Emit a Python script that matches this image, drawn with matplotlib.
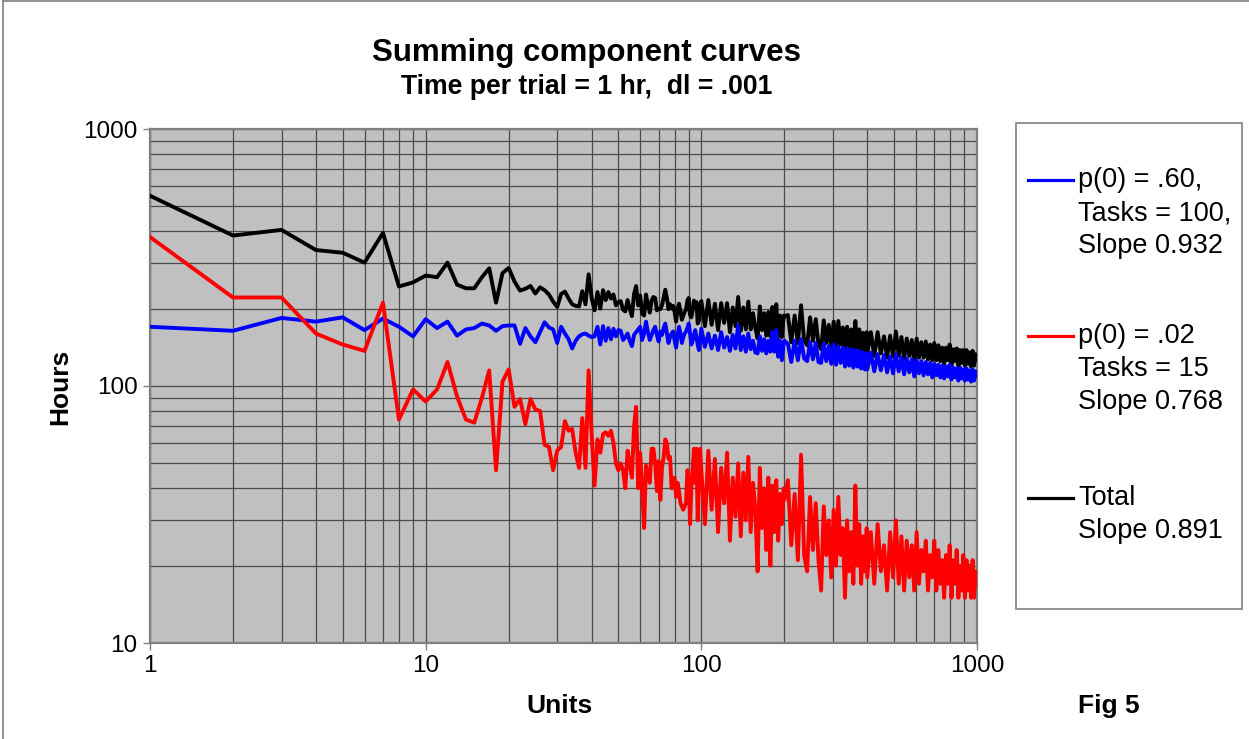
import numpy as np
import matplotlib.pyplot as plt
from matplotlib.patches import Rectangle
from matplotlib.lines import Line2D
from matplotlib.ticker import LogLocator, NullFormatter, FixedLocator

plt.rcParams['font.family'] = ['Liberation Sans', 'DejaVu Sans']

# units: every unit up to 100, then sampled units through the dense part
units = list(range(1, 101)) + list(range(103, 200, 3)) + list(range(200, 400, 6)) + list(range(400, 1001, 12))

# p(0) = .60, Tasks = 100
blue = [170, 164, 184, 178, 185, 165, 183, 170, 156, 182,
        168, 178, 157, 166, 168, 175, 172, 164, 171, 172,
        172, 146, 168, 156, 148, 162, 177, 169, 166, 147,
        170, 160, 152, 140, 150, 156, 159, 160, 157, 155,
        156, 170, 145, 171, 150, 168, 152, 167, 156, 165,
        164, 151, 155, 160, 150, 143, 158, 162, 166, 170,
        151, 160, 178, 162, 151, 158, 165, 170, 158, 149,
        163, 158, 168, 175, 160, 147, 155, 160, 163, 150,
        141, 158, 170, 160, 147, 155, 160, 163, 168, 175,
        160, 145, 150, 158, 165, 155, 145, 138, 152, 167,
        142, 160, 140, 157, 138, 162, 141, 155, 137, 158,
        140, 172, 138, 156, 136, 160, 139, 150, 135, 134,
        156, 137, 152, 134, 150, 136, 162, 136, 165, 130,
        150, 126, 148,
        150, 146, 124, 150, 126, 152, 128, 125, 148, 127,
        147, 124, 123, 146, 125, 143, 122, 145, 121, 142,
        123, 141, 119, 140, 120, 139, 118, 138, 119, 137,
        117, 135, 116, 134,
        116, 135, 114, 133, 115, 132, 113, 130, 112, 133,
        114, 129, 111, 128, 113, 127, 109, 126, 112, 125,
        110, 124, 111, 123, 108, 122, 110, 121, 108, 120,
        107, 119, 109, 121, 106, 118, 108, 117, 105, 118,
        107, 116, 105, 117, 106, 115, 104, 116, 105, 114,
        110]

# p(0) = .02, Tasks = 15
red = [380, 221, 221, 160, 145, 137, 211, 74, 97, 87,
       97, 124, 91, 74, 72, 90, 115, 47, 104, 116,
       83, 89, 71, 89, 81, 80, 59, 58, 47, 56,
       58, 73, 67, 68, 55, 48, 75, 48, 115, 65,
       41, 62, 55, 65, 66, 64, 67, 60, 50, 47,
       50, 47, 40, 56, 50, 44, 70, 83, 40, 55,
       40, 28, 49, 45, 42, 57, 57, 50, 39, 51,
       36, 48, 53, 62, 60, 52, 53, 40, 42, 44,
       37, 42, 39, 35, 34, 33, 34, 35, 47, 45,
       29, 40, 47, 57, 42, 57, 30, 42, 57, 47,
       29, 56, 33, 52, 27, 48, 35, 55, 25, 44,
       31, 50, 26, 46, 30, 53, 27, 42, 33, 19,
       48, 28, 40, 23, 44, 20, 41, 27, 43, 25,
       38, 29, 40,
       36, 43, 24, 38, 21, 54, 22, 19, 37, 23,
       35, 21, 16, 34, 22, 30, 18, 33, 20, 37,
       22, 28, 15, 30, 19, 27, 17, 41, 20, 29,
       17, 26, 19, 28,
       18, 27, 17, 29, 19, 24, 16, 27, 18, 30,
       17, 26, 16, 25, 18, 24, 16, 27, 17, 23,
       19, 25, 16, 22, 18, 25, 16, 23, 17, 21,
       15, 22, 17, 24, 15, 21, 17, 23, 15, 20,
       16, 22, 15, 21, 16, 20, 15, 21, 15, 19,
       17]

# the total curve is the sum of the two components
total = np.array(blue) + np.array(red)

legend_texts = [["p(0) = .60,", "Tasks = 100,", "Slope 0.932"],
                ["p(0) = .02", "Tasks = 15", "Slope 0.768"],
                ["Total", "Slope 0.891"]]
legend_colors = ["#0000ff", "#ff0000", "#000000"]

W, H = 1249, 739
fig = plt.figure(figsize=(W / 100, H / 100), dpi=100)
ax = fig.add_axes([150 / W, 1 - 643 / H, 827 / W, 514 / H])
ax.set_facecolor("#c0c0c0")

ax.plot(units, total, color="#000000", lw=2.8, zorder=3)
ax.plot(units, blue, color="#0000ff", lw=2.8, zorder=4)
ax.plot(units, red, color="#ff0000", lw=2.8, zorder=5)

ax.set_xscale("log")
ax.set_yscale("log")
ax.set_xlim(1, 1000)
ax.set_ylim(10, 1000)

ax.xaxis.set_major_locator(FixedLocator([1, 10, 100, 1000]))
ax.yaxis.set_major_locator(FixedLocator([10, 100, 1000]))
ax.xaxis.set_minor_locator(LogLocator(base=10, subs=np.arange(2, 10)))
ax.yaxis.set_minor_locator(LogLocator(base=10, subs=np.arange(2, 10)))
ax.xaxis.set_minor_formatter(NullFormatter())
ax.yaxis.set_minor_formatter(NullFormatter())
ax.set_xticklabels(["1", "10", "100", "1000"])
ax.set_yticklabels(["10", "100", "1000"])

ax.grid(True, which="both", color="#4a4a4a", lw=0.9, zorder=1)
ax.set_axisbelow(True)
ax.tick_params(which="major", length=5, width=1, color="#808080", labelsize=17.5, pad=4)
ax.tick_params(which="minor", length=0)
for s in ax.spines.values():
    s.set_color("#808080")
    s.set_linewidth(1.6)

fig.text(587 / W, 1 - 53 / H, "Summing component curves", ha="center", va="center",
         fontsize=22.5, fontweight="bold")
fig.text(587 / W, 1 - 87 / H, "Time per trial = 1 hr,  dl = .001", ha="center", va="center",
         fontsize=19.2, fontweight="bold")
fig.text(560 / W, 1 - 706 / H, "Units", ha="center", va="center", fontsize=19, fontweight="bold")
fig.text(1109 / W, 1 - 706 / H, "Fig 5", ha="center", va="center", fontsize=19, fontweight="bold")
fig.text(60 / W, 1 - 387 / H, "Hours", ha="center", va="center", fontsize=19,
         fontweight="bold", rotation=90)

# legend box
fig.add_artist(Rectangle((1016 / W, 1 - 609 / H), 226 / W, 486 / H, transform=fig.transFigure,
                         facecolor="white", edgecolor="#808080", lw=1.2))
starts = [180, 336, 498]
for texts, col, y0 in zip(legend_texts, legend_colors, starts):
    fig.add_artist(Line2D([1028 / W, 1073 / W], [1 - y0 / H, 1 - y0 / H], color=col, lw=2.3,
                          transform=fig.transFigure))
    for k, t in enumerate(texts):
        fig.text(1078 / W, 1 - (y0 + 33 * k) / H, t, ha="left", va="center", fontsize=19.5)

# outer chart border (top and left visible)
fig.add_artist(Line2D([3 / W, 3 / W], [0, 1 - 1 / H], color="#808080", lw=1.2, transform=fig.transFigure))
fig.add_artist(Line2D([3 / W, 1], [1 - 1 / H, 1 - 1 / H], color="#808080", lw=1.2, transform=fig.transFigure))

fig.savefig("out.png", dpi=100, facecolor="white")
